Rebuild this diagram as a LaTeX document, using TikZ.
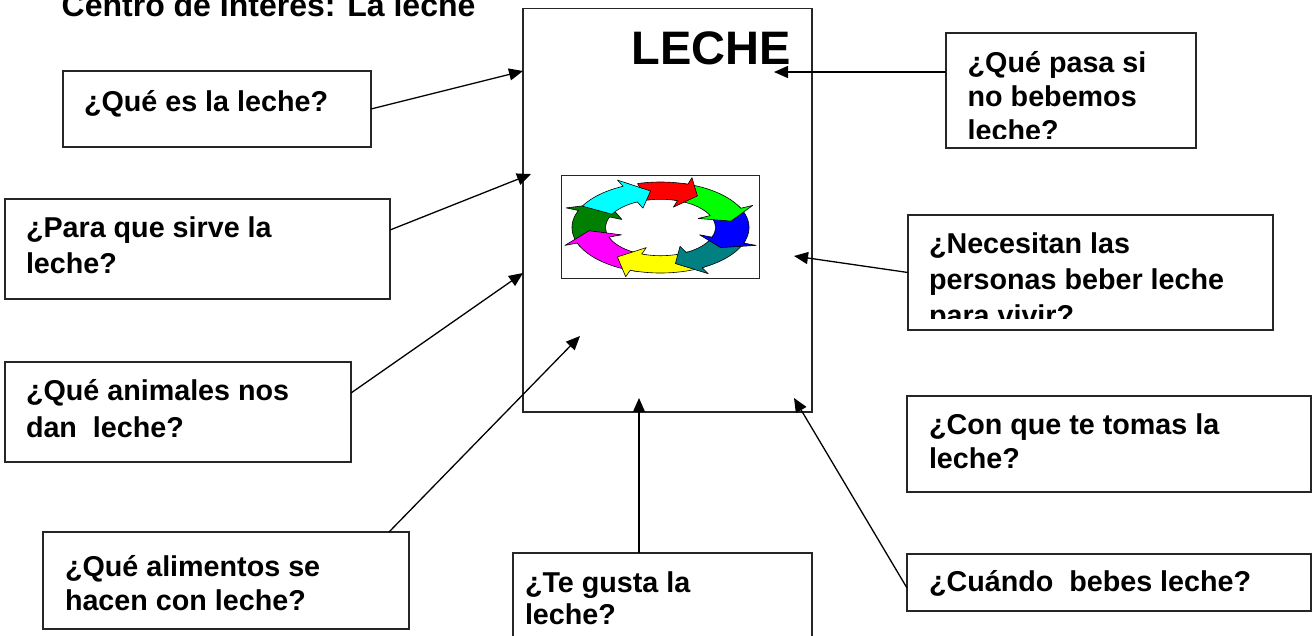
\documentclass[tikz,border=0pt]{standalone}
\usepackage{fontspec}
\setmainfont{Liberation Sans}
\usetikzlibrary{arrows.meta}
\definecolor{dgreen}{RGB}{0,128,0}
\definecolor{lgreen}{RGB}{0,255,0}
\definecolor{cteal}{RGB}{0,128,128}
\definecolor{ccyan}{RGB}{0,255,255}
\definecolor{cmag}{RGB}{255,0,255}
\definecolor{cyel}{RGB}{255,255,0}
\definecolor{cred}{RGB}{255,0,0}
\definecolor{cblue}{RGB}{0,0,255}
\newcommand\mlines[2]{{\fontsize{28.7}{#1}\selectfont\begin{tabular}[t]{@{}l@{}}#2\end{tabular}}}
\newcommand\circarrow[4]{%
  \filldraw[fill=#1, draw=black, line width=0.6pt, line join=round]
    plot[domain=#2:#3, samples=30] ({cos(\x)},{sin(\x)})
    -- ({1.15*cos(#3)},{1.15*sin(#3)})
    -- ({0.81*cos(#4)},{0.81*sin(#4)})
    -- ({0.47*cos(#3)},{0.47*sin(#3)})
    -- plot[domain=#3:#2, samples=30] ({0.62*cos(\x)},{0.62*sin(\x)})
    -- cycle;}
\begin{document}
\begin{tikzpicture}[x=1pt,y=-1pt,
  box/.style={draw=black!85, fill=white, line width=1.2pt, anchor=north west, inner sep=0pt, outer sep=0pt},
  qtext/.style={font=\bfseries, anchor=base west, inner sep=0pt, outer sep=0pt},
  conn/.style={line width=1.3pt, -{Triangle[length=14pt,width=12pt]}}]
\useasboundingbox (0,0) rectangle (1314,635);
\fill[white] (0,0) rectangle (1314,635);
\clip (0,0) rectangle (1314,635);

% title
\node[qtext, font=\fontsize{32}{38}\selectfont\bfseries] (title) at (61.7,16) {Centro de Interés: La leche};

% main box
\node[box, minimum width=289pt, minimum height=403.5pt] (M) at (523,8.5) {};
\node[qtext, font=\fontsize{47}{56}\selectfont\bfseries] (leche) at (631.7,64) {LECHE};

% picture box with circular arrows
\node[box, line width=0.9pt, minimum width=198pt, minimum height=103pt] (P) at (561,175) {};
\begin{scope}[shift={(660.5,227.5)}, x=88.5pt, y=45.5pt]
  \circarrow{dgreen}{205}{158}{138}
  \circarrow{cmag}{255}{200}{185}
  \circarrow{cyel}{300}{250}{233}
  \circarrow{cteal}{343}{298}{282}
  \circarrow{cblue}{28}{-20}{-33}
  \circarrow{lgreen}{75}{25}{10}
  \circarrow{cred}{105}{72}{59}
  \circarrow{ccyan}{152}{115}{98}
\end{scope}

% question boxes
\node[box, minimum width=308pt, minimum height=76pt]  (b1) at (63,71) {};
\node[box, minimum width=385pt, minimum height=100pt] (b2) at (5,199) {};
\node[box, minimum width=346pt, minimum height=100pt] (b3) at (5,362) {};
\node[box, minimum width=366pt, minimum height=97pt]  (b4) at (43,532) {};
\node[box, minimum width=299pt, minimum height=100pt] (b5) at (513,553) {};
\node[box, minimum width=404pt, minimum height=57pt]  (b6) at (907,554) {};
\node[box, minimum width=404pt, minimum height=96pt]  (b7) at (907,396) {};
\node[box, minimum width=365pt, minimum height=115pt] (b8) at (908,215) {};
\node[box, minimum width=250pt, minimum height=115pt] (b9) at (946,33) {};

% texts
\node[qtext] (t1) at (84,111) {\mlines{36}{¿Qué es la leche?}};
\node[qtext] (t2) at (26,237.5) {\mlines{36}{¿Para que sirve la\\leche?}};
\node[qtext] (t3) at (26,400) {\mlines{37}{¿Qué animales nos\\dan\ \ leche?}};
\node[qtext] (t4) at (65,576) {\mlines{34}{¿Qué alimentos se\\hacen con leche?}};
\node[qtext] (t5) at (525,592) {\mlines{32}{¿Te gusta la\\leche?}};
\node[qtext] (t6) at (929,591.5) {\mlines{36}{¿Cuándo\ \ bebes leche?}};
\node[qtext] (t7) at (929,434) {\mlines{34}{¿Con que te tomas la\\leche?}};
\begin{scope}
  \clip (908,215) rectangle (1273,318);
  \node[qtext] (t8) at (929,253) {\mlines{36}{¿Necesitan las\\personas beber leche\\para vivir?}};
\end{scope}
\begin{scope}
  \clip (946,33) rectangle (1196,138);
  \node[qtext] (t9) at (967.7,72) {\mlines{34}{¿Qué pasa si\\no bebemos\\leche?}};
\end{scope}

% arrow tips
\coordinate (e1) at (523,71);
\coordinate (e2) at (531,174);
\coordinate (e3) at (523,273);
\coordinate (e4) at (580,336);
\coordinate (e5) at (639,398);
\coordinate (e6) at (794,398);
\coordinate (e8) at (794,256);
\coordinate (e9) at (774,72);

% connectors
\draw[conn] (b1.east) -- (e1);
\draw[conn] ([yshift=19pt]b2.east) -- (e2);
\draw[conn] ([yshift=19pt]b3.east) -- (e3);
\draw[conn] ([xshift=-20pt]b4.north east) -- (e4);
\draw[conn] ([xshift=-23.5pt]b5.north) -- (e5);
\draw[conn] ([yshift=-5.5pt]b6.west) -- (e6);
\draw[conn] (b8.west) -- (e8);
\draw[conn] ([yshift=18.5pt]b9.west) -- (e9);
\end{tikzpicture}
\end{document}
